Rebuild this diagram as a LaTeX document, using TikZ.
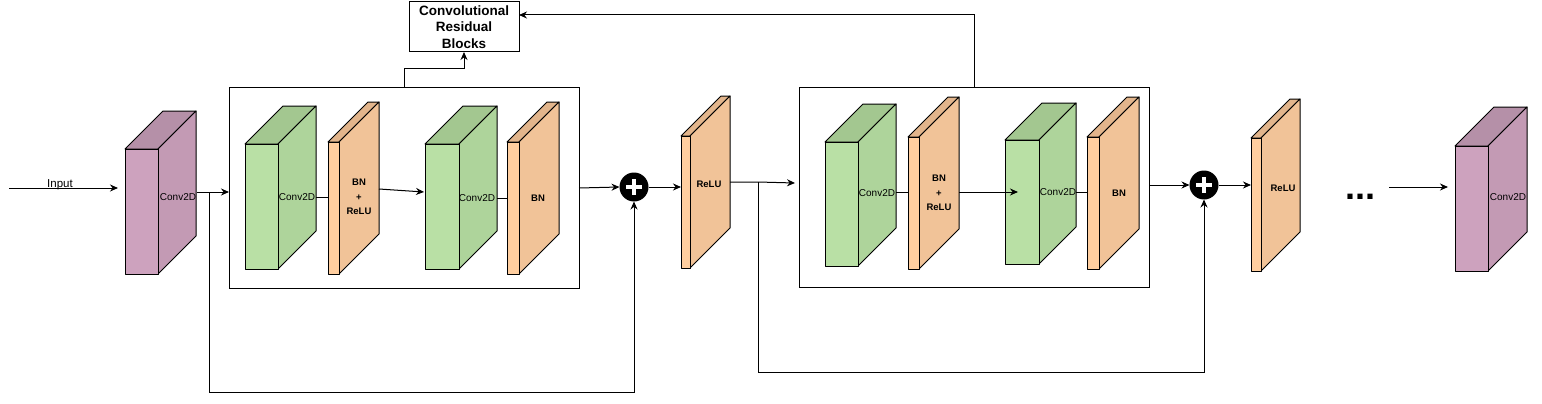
\documentclass[tikz,border=0pt]{standalone}
\usepackage{fontspec}
\setmainfont{Liberation Sans}
\usetikzlibrary{arrows.meta,calc}
\definecolor{purpF}{HTML}{CDA2BE}
\definecolor{purpS}{HTML}{C39AB4}
\definecolor{purpT}{HTML}{B590A8}
\definecolor{grnF}{HTML}{B9E0A5}
\definecolor{grnS}{HTML}{AED49B}
\definecolor{grnT}{HTML}{A3C790}
\definecolor{orgF}{HTML}{FFCE9F}
\definecolor{orgS}{HTML}{F1C398}
\definecolor{orgT}{HTML}{E2B58C}
\tikzset{
  cubeedge/.style={draw=black, line width=1pt, line join=round},
  conn/.style={draw=black, line width=1pt},
  arr/.style={conn, -{Stealth[length=8pt,width=7pt]}},
  lbl/.style={font=\fontsize{10}{12}\selectfont, inner sep=0pt},
  blbl/.style={font=\bfseries\fontsize{9.5}{14.5}\selectfont, inner sep=0pt, align=center},
  frame/.style={draw=black, line width=1pt, inner sep=0pt, outer sep=0pt, anchor=north west},
  plusnode/.style={circle, fill=black, minimum size=29pt, inner sep=0pt, outer sep=0pt},
  plusbar/.style={draw=white, line width=4pt},
}
\newcommand{\cuboid}[7]{%
  \filldraw[cubeedge, fill=#7T] (#2,#3) -- ++(#6,-#6) -- ++(#4,0) -- ++(-#6,#6) -- cycle;
  \filldraw[cubeedge, fill=#7S] (#2+#4,#3) -- ++(#6,-#6) -- ++(0,#5) -- ++(-#6,#6) -- cycle;
  \node[cubeedge, fill=#7F, minimum width=#4pt, minimum height=#5pt, inner sep=0pt, outer sep=0pt, anchor=north west] (#1) at (#2,#3) {};
}
\begin{document}
\begin{tikzpicture}[x=1pt,y=-1pt]
\useasboundingbox (0,0) rectangle (1542,404);
\fill[white] (0,0) rectangle (1542,404);

% frames
\node[frame, minimum width=350pt, minimum height=201pt] (box1) at (229,87) {};
\node[frame, minimum width=350pt, minimum height=200pt] (box2) at (799,87) {};
\node[frame, minimum width=110pt, minimum height=50pt, align=center,
      font=\bfseries\fontsize{13.5}{16.5}\selectfont] (crb) at (409,2) {Convolutional\\Residual\\Blocks};

% cuboids
\cuboid{p1}{125}{149}{33}{125}{38}{purp}
\cuboid{g1}{245}{144}{33}{125}{38}{grn}
\cuboid{o1}{328}{142}{11}{132}{40}{org}
\cuboid{g2}{425}{144}{34}{125}{38}{grn}
\cuboid{o2}{507}{142}{12}{132}{40}{org}
\cuboid{r1}{681}{136}{9}{132}{40}{org}
\cuboid{g3}{825}{142}{33}{124}{38}{grn}
\cuboid{o3}{908}{137}{11}{132}{40}{org}
\cuboid{g4}{1005}{140}{34}{124}{37}{grn}
\cuboid{o4}{1087}{137}{12}{132}{40}{org}
\cuboid{r2}{1251}{138}{10}{133}{39}{org}
\cuboid{p2}{1455}{146}{33}{125}{39}{purp}

% labels
\node[lbl] (p1l) at (178,197) {Conv2D};
\node[lbl] (g1l) at (297,197) {Conv2D};
\node[blbl] (o1l) at (359,197) {BN\\+\\ReLU};
\node[lbl] (g2l) at (477,198) {Conv2D};
\node[blbl] (o2l) at (538,198) {BN};
\node[blbl] (r1l) at (709,184) {ReLU};
\node[lbl] (g3l) at (877,193) {Conv2D};
\node[blbl] (o3l) at (939,193) {BN\\+\\ReLU};
\node[lbl] (g4l) at (1058,192) {Conv2D};
\node[blbl] (o4l) at (1119,193) {BN};
\node[blbl] (r2l) at (1283,188) {ReLU};
\node[lbl] (p2l) at (1508,197) {Conv2D};
\node[font=\fontsize{11.5}{13}\selectfont, inner sep=0pt] (inl) at (60,185) {Input};
\node[font=\bfseries\fontsize{36}{36}\selectfont, inner sep=0pt] (dots) at (1360,197) {...};

% sum nodes
\node[plusnode] (s1) at (634,187) {};
\draw[plusbar] ($(s1)+(-8,0)$) -- ($(s1)+(8,0)$) ($(s1)+(0,-8)$) -- ($(s1)+(0,8)$);
\node[plusnode] (s2) at (1204,185) {};
\draw[plusbar] ($(s2)+(-8,0)$) -- ($(s2)+(8,0)$) ($(s2)+(0,-8)$) -- ($(s2)+(0,8)$);

% connection points
\coordinate (in0) at (9,188);
\coordinate (in1) at (118,188);
\coordinate (p1o) at (197,192);
\coordinate (j1) at (209,192);
\coordinate (g1o) at (316,197);
\coordinate (o1o) at (379,189);
\coordinate (g2in) at (424,192);
\coordinate (g2o) at (497,198);
\coordinate (r1o) at (730,182);
\coordinate (j2) at (758,182);
\coordinate (b2in) at (795,183);
\coordinate (g3o) at (896,192);
\coordinate (o3o) at (959,192);
\coordinate (g4in) at (1018,192);
\coordinate (g4o) at (1076,192);
\coordinate (dl) at (1389,187);
\coordinate (p2in) at (1448,187);

% connectors
\draw[arr] (in0) -- (in1);
\draw[arr] (p1o) -- (box1.west |- p1o);
\draw[arr] (j1) -- (209,392) -| (s1.south);
\draw[conn] (g1o) -- (o1.west |- g1o);
\draw[arr] (o1o) -- (g2in);
\draw[conn] (g2o) -- (o2.west |- g2o);
\draw[arr] (box1.east |- 0,188) -- (s1.west);
\draw[arr] (s1.east) -- (r1.west |- s1);
\draw[arr] (r1o) -- (j2) -- (b2in);
\draw[arr] (j2) -- (758,372) -| (s2.south);
\draw[arr] (box1.north) -- ++(0,-18) -| (crb.south);
\draw[arr] (box2.north) -- (box2.north |- 0,15) -- (crb.north east |- 0,15);
\draw[conn] (g3o) -- (o3.west |- g3o);
\draw[arr] (o3o) -- (g4in);
\draw[conn] (g4o) -- (o4.west |- g4o);
\draw[arr] (box2.east |- s2) -- (s2.west);
\draw[arr] (s2.east) -- (r2.west |- s2);
\draw[arr] (dl) -- (p2in);
\end{tikzpicture}
\end{document}
